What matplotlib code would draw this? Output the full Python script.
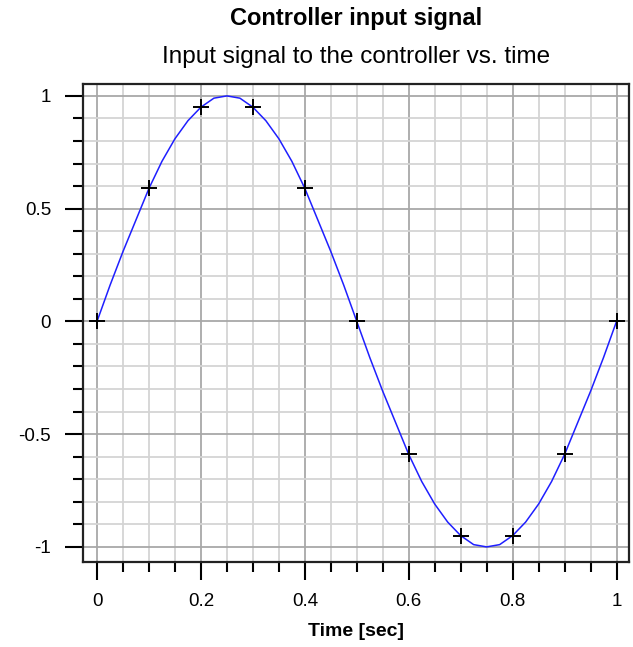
import numpy as np
import matplotlib
matplotlib.use('Agg')
import matplotlib.pyplot as plt
from matplotlib.ticker import MultipleLocator, FuncFormatter

# curve
t_curve = [0.0, 0.025, 0.05, 0.075, 0.1, 0.125, 0.15, 0.175, 0.2, 0.225, 0.25,
           0.275, 0.3, 0.325, 0.35, 0.375, 0.4, 0.425, 0.45, 0.475, 0.5,
           0.525, 0.55, 0.575, 0.6, 0.625, 0.65, 0.675, 0.7, 0.725, 0.75,
           0.775, 0.8, 0.825, 0.85, 0.875, 0.9, 0.925, 0.95, 0.975, 1.0]
u_curve = [0.0, 0.16, 0.31, 0.45, 0.59, 0.71, 0.81, 0.89, 0.95, 0.99, 1.0,
           0.99, 0.95, 0.89, 0.81, 0.71, 0.59, 0.45, 0.31, 0.16, 0.0,
           -0.16, -0.31, -0.45, -0.59, -0.71, -0.81, -0.89, -0.95, -0.99, -1.0,
           -0.99, -0.95, -0.89, -0.81, -0.71, -0.59, -0.45, -0.31, -0.16, 0.0]

# sample points marked with +
t_pts = [0.0, 0.1, 0.2, 0.3, 0.4, 0.5, 0.6, 0.7, 0.8, 0.9, 1.0]
u_pts = [0.0, 0.59, 0.95, 0.95, 0.59, 0.0, -0.59, -0.95, -0.95, -0.59, 0.0]

plt.rcParams['font.family'] = ['Liberation Sans', 'DejaVu Sans']

fig = plt.figure(figsize=(6.33, 6.47), dpi=100)
ax = fig.add_axes([83/633, 1 - 562/647, (629 - 83)/633, (562 - 83.5)/647])

ax.plot(t_curve, u_curve, color='#1f1fff', linewidth=1.1, zorder=3)
ax.plot(t_pts, u_pts, linestyle='none', marker='+', color='black',
        markersize=12, markeredgewidth=1.4, zorder=4)

ax.set_xlim(-0.027, 1.024)
ax.set_ylim(-1.067, 1.055)

ax.xaxis.set_major_locator(MultipleLocator(0.2))
ax.xaxis.set_minor_locator(MultipleLocator(0.05))
ax.yaxis.set_major_locator(MultipleLocator(0.5))
ax.yaxis.set_minor_locator(MultipleLocator(0.1))

fmt = FuncFormatter(lambda v, p: ('%g' % round(v, 2)))
ax.xaxis.set_major_formatter(fmt)
ax.yaxis.set_major_formatter(fmt)

ax.grid(which='minor', color='#d4d4d4', linewidth=1.3, zorder=0)
ax.grid(which='major', color='#a8a8a8', linewidth=1.3, zorder=1)
ax.set_axisbelow(True)

ax.tick_params(which='major', direction='out', length=13, width=1.5,
               labelsize=13.5, pad=9)
ax.tick_params(which='minor', direction='out', length=7, width=1.5)
ax.tick_params(axis='y', which='major', pad=10)

for s in ax.spines.values():
    s.set_linewidth(1.6)
    s.set_color('#222222')

ax.set_xlabel('Time [sec]', fontsize=14, fontweight='bold', labelpad=10)

# titles are centred over the plot box
xc = 356 / 633
fig.text(xc, 1 - 19/647, 'Controller input signal', ha='center', va='center',
         fontsize=17, fontweight='bold')
fig.text(xc, 1 - 57/647, 'Input signal to the controller vs. time',
         ha='center', va='center', fontsize=17.5)

fig.savefig('out.png', dpi=100)
